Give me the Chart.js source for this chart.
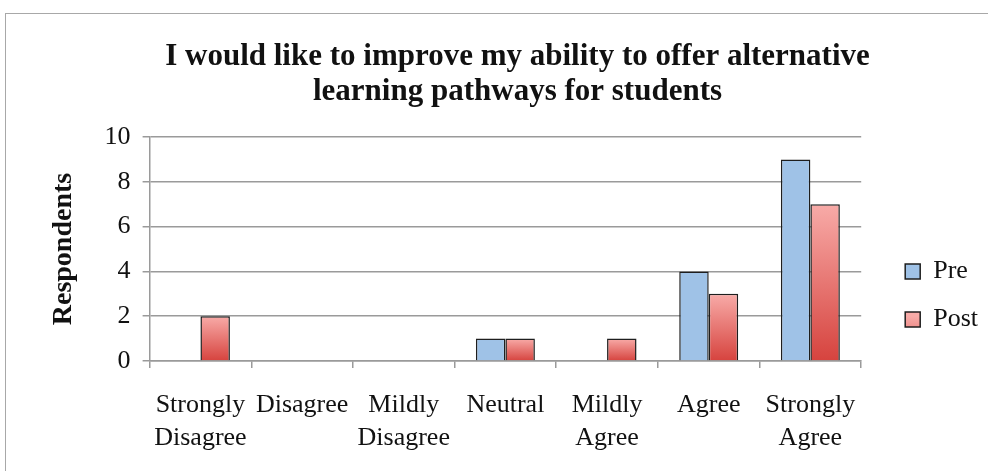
<!DOCTYPE html>
<html>
<head>
<meta charset="utf-8">
<script src="https://cdn.jsdelivr.net/npm/chart.js@4"></script>
<style>
  body { margin: 0; background: #fff; }
  #wrap { position: relative; width: 988px; height: 471px; }
  #frame { position: absolute; left: 5px; top: 13px; width: 990px; height: 470px; border: 1.5px solid #a8a8a8; box-sizing: border-box; }
  canvas { position: absolute; left: 0; top: 0; }
</style>
</head>
<body>
<div id="wrap">
  <div id="frame"></div>
  <canvas id="surveyChart" width="988" height="471"></canvas>
</div>
<script>
var categories = [["Strongly", "Disagree"], "Disagree", ["Mildly", "Disagree"], "Neutral", ["Mildly", "Agree"], "Agree", ["Strongly", "Agree"]];
var preValues = [0, 0, 0, 1, 0, 4, 9];
var postValues = [2, 0, 0, 1, 1, 3, 7];
var seriesNames = ["Pre", "Post"];

var serif = "'Liberation Serif', 'DejaVu Serif', serif";

// red bars fade from pink at the top to red at the base
function postFill(ctx) {
    var chart = ctx.chart;
    if (!chart.chartArea || ctx.type !== "data") return "#ec7b78";
    var y = chart.scales.y;
    var top = y.getPixelForValue(ctx.raw);
    var bottom = y.getPixelForValue(0);
    if (bottom - top < 1) return "#ec7b78";
    var g = chart.ctx.createLinearGradient(0, top, 0, bottom);
    g.addColorStop(0, "#f8aba8");
    g.addColorStop(1, "#d6433e");
    return g;
}

new Chart(document.getElementById("surveyChart"), {
    type: "bar",
    data: {
        labels: categories,
        datasets: [{
            label: seriesNames[0],
            data: preValues,
            backgroundColor: "#9fc2e7",
            borderColor: "#1e1e1e",
            borderWidth: 1.5
        }, {
            label: seriesNames[1],
            data: postValues,
            backgroundColor: postFill,
            borderColor: "#1e1e1e",
            borderWidth: 1.5
        }]
    },
    options: {
        responsive: false,
        animation: false,
        layout: { padding: { top: 39, left: 47, right: 0, bottom: 0 } },
        datasets: { bar: { barPercentage: 1, categoryPercentage: 0.58 } },
        plugins: {
            title: {
                display: true,
                text: ["I would like to improve my ability to offer alternative", "learning pathways for students"],
                color: "#111",
                font: { family: serif, size: 31, weight: "bold", lineHeight: 1.13 },
                padding: { top: 0, bottom: 28 }
            },
            legend: {
                position: "right",
                title: { display: true, text: " ", padding: { top: 0, bottom: 50 }, font: { size: 26 } },
                labels: {
                    color: "#111",
                    font: { family: serif, size: 26 },
                    boxWidth: 15,
                    boxHeight: 15,
                    padding: 22,
                    useBorderRadius: false
                }
            },
            tooltip: { enabled: false }
        },
        scales: {
            x: {
                grid: { display: true, drawOnChartArea: false, drawTicks: true, tickLength: 7, color: "#9a9a9a", lineWidth: 1.5, offset: true },
                border: { color: "#9a9a9a", width: 1.5 },
                ticks: { color: "#111", font: { family: serif, size: 26, lineHeight: 1.27 }, maxRotation: 0, autoSkip: false, padding: 21 },
                afterFit: function(scale) { scale.height = 110; }
            },
            y: {
                min: 0,
                max: 10,
                ticks: { stepSize: 2, color: "#111", font: { family: serif, size: 26 }, padding: 12 },
                grid: { color: "#9a9a9a", lineWidth: 1.5, tickLength: 7 },
                border: { color: "#9a9a9a", width: 1.5 },
                title: { display: true, text: "Respondents", color: "#111", font: { family: serif, size: 28, weight: "bold" }, padding: { top: 0, bottom: 12 } }
            },
            // empty right-hand axis, only keeps a gap between the plot and the legend
            spacer: {
                position: "right",
                display: true,
                grid: { display: false },
                border: { display: false },
                ticks: { display: false },
                afterFit: function(scale) { scale.width = 22; }
            }
        }
    }
});
</script>
</body>
</html>
